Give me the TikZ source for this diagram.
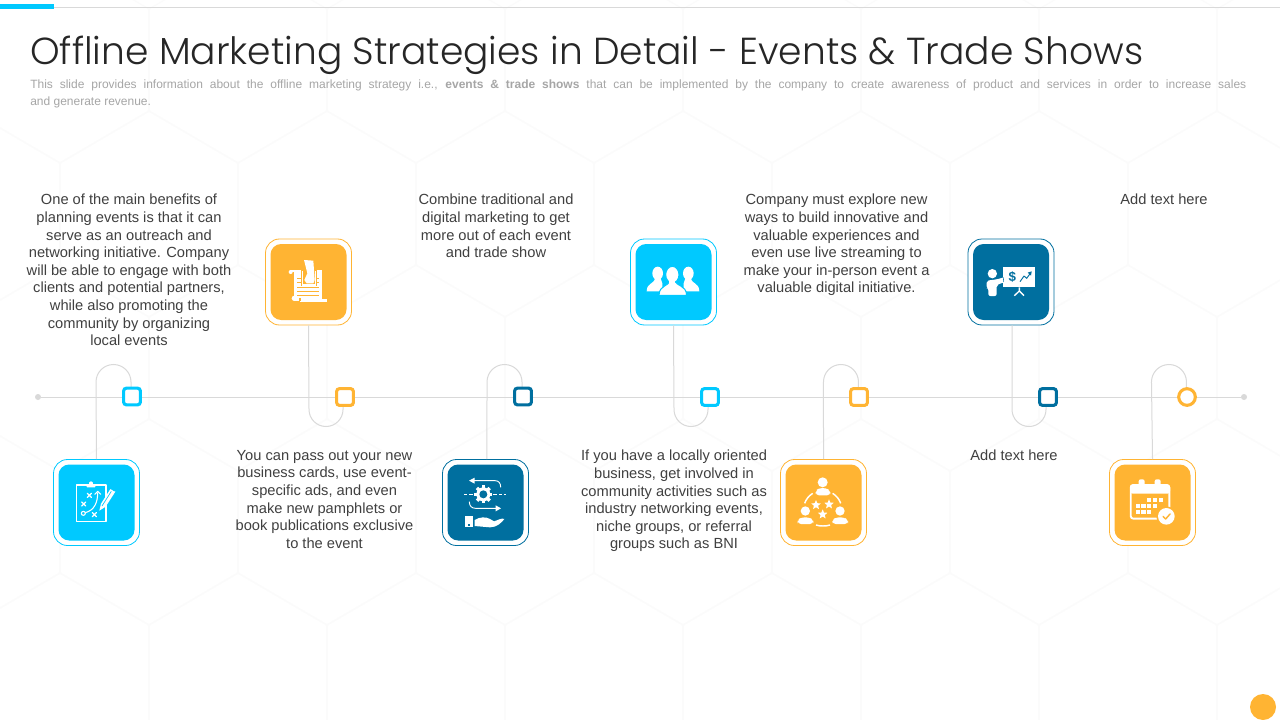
\documentclass[tikz,border=0pt]{standalone}
\usepackage{fontspec}
\setmainfont{Liberation Sans}
\newfontfamily\titlefont{Poppins Light}
\definecolor{cy}{HTML}{00C9FF}
\definecolor{or}{HTML}{FFB433}
\definecolor{bl}{HTML}{006F9F}
\definecolor{ln}{HTML}{D9D9D9}
\definecolor{tx}{HTML}{404040}
\definecolor{sub}{HTML}{A6A6A6}
\definecolor{hexc}{HTML}{FBFBFB}
\tikzset{
 outerbox/.style={draw=#1,fill=white,line width=.6pt,rounded corners=10.5pt,minimum size=64.5pt,inner sep=0pt},
 innerbox/.style={fill=#1,rounded corners=8pt,minimum size=57pt,inner sep=0pt},
 marker/.style={draw=#1,fill=white,line width=2.3pt,rounded corners=2pt,minimum size=12.5pt,inner sep=0pt},
 markerc/.style={draw=#1,fill=white,line width=2.3pt,circle,minimum size=12.5pt,inner sep=0pt},
 conn/.style={draw=ln,line width=.75pt},
 enddot/.style={circle,fill=ln,minimum size=4.5pt,inner sep=0pt},
 body/.style={text=tx,align=center,font=\fontsize{11}{13.2}\selectfont,inner sep=0pt,anchor=north},
 zoomed/.style={x=.25pt,y=-.25pt},
 ic/.style={draw=white,line width=1pt,line cap=round,line join=round},
}
\newcommand{\starat}[3]{\fill[white] ($(#1,#2)+(-90:#3)$)
 -- ($(#1,#2)+(-54:.45*#3)$) -- ($(#1,#2)+(-18:#3)$) -- ($(#1,#2)+(18:.45*#3)$) -- ($(#1,#2)+(54:#3)$)
 -- ($(#1,#2)+(90:.45*#3)$) -- ($(#1,#2)+(126:#3)$) -- ($(#1,#2)+(162:.45*#3)$) -- ($(#1,#2)+(198:#3)$)
 -- ($(#1,#2)+(234:.45*#3)$) -- cycle;}
\usetikzlibrary{calc}
\begin{document}
\begin{tikzpicture}[x=.75pt,y=-.75pt]
\useasboundingbox (0,0) rectangle (1280,720);
\fill[white] (0,0) rectangle (1280,720);
% faint background hexagons
\begin{scope}
\clip (0,0) rectangle (1280,720);
\foreach \r in {0,...,5}{
 \foreach \c in {-1,...,8}{
  \pgfmathsetmacro{\cx}{60+\c*178+mod(\r,2)*89}
  \pgfmathsetmacro{\cy}{60+\r*154}
  \draw[hexc,line width=.8pt] (\cx,\cy-103) -- (\cx+89,\cy-51) -- (\cx+89,\cy+51) -- (\cx,\cy+103) -- (\cx-89,\cy+51) -- (\cx-89,\cy-51) -- cycle;
 }}
\end{scope}
% top rule
\draw[ln,line width=.75pt] (44,7.5) -- (1280,7.5);
\fill[cy] (0,4) rectangle (54,8.7);
\fill[or] (1263,707) circle (13);
% title
\node[anchor=west,inner sep=0pt,text=black!85] (title) at (30,55) {\resizebox{834.75pt}{!}{\titlefont\fontsize{30}{36}\selectfont Offline Marketing Strategies in Detail - Events \& Trade Shows}};
\node[anchor=north west,inner sep=0pt,text=sub,text width=912pt,align=justify,font=\fontsize{9}{12.1}\selectfont] (subtitle) at (30,80) {This slide provides information about the offline marketing strategy i.e., \textbf{events \& trade shows} that can be implemented by the company to create awareness of product and services in order to increase sales\linebreak and generate revenue.};
% timeline
\node[enddot] (dl) at (38,397) {};
\node[enddot] (dr) at (1244,397) {};
\draw[ln,line width=.75pt] (dl) -- (dr);
% boxes
\node[outerbox=cy] (b1) at (96.5,502.5) {}; \node[innerbox=cy] (i1) at (b1) {};
\node[outerbox=or] (b2) at (308.5,282) {}; \node[innerbox=or] (i2) at (b2) {};
\node[outerbox=bl] (b3) at (485.5,502.5) {}; \node[innerbox=bl] (i3) at (b3) {};
\node[outerbox=cy] (b4) at (673.5,282) {}; \node[innerbox=cy] (i4) at (b4) {};
\node[outerbox=or] (b5) at (823.5,502.5) {}; \node[innerbox=or] (i5) at (b5) {};
\node[outerbox=bl] (b6) at (1011,282) {}; \node[innerbox=bl] (i6) at (b6) {};
\node[outerbox=or] (b7) at (1152.5,502.5) {}; \node[innerbox=or] (i7) at (b7) {};
% markers positions
\coordinate (m1c) at (132,396.5);
\coordinate (m2c) at (345,397);
\coordinate (m3c) at (523,396.5);
\coordinate (m4c) at (710,397);
\coordinate (m5c) at (859,397);
\coordinate (m6c) at (1048,397);
\coordinate (m7c) at (1187,397);
% connectors
\draw[conn] ([xshift=-.75pt]m1c) -- ++(0,-14.5) arc[start angle=0,end angle=-180,radius=17.5] -- (b1.north);
\draw[conn] ([xshift=-1.5pt]m2c) -- ++(0,12.5) arc[start angle=0,end angle=180,radius=17] -- (b2.south);
\draw[conn] ([xshift=-.75pt]m3c) -- ++(0,-14.5) arc[start angle=0,end angle=-180,radius=17.5] -- ([xshift=1.1pt]b3.north);
\draw[conn] ([xshift=-1.5pt]m4c) -- ++(0,12.5) arc[start angle=0,end angle=180,radius=17] -- (b4.south);
\draw[conn] ([xshift=-.4pt]m5c) -- ++(0,-15) arc[start angle=0,end angle=-180,radius=17.5] -- (b5.north);
\draw[conn] ([xshift=-1.5pt]m6c) -- ++(0,12.5) arc[start angle=0,end angle=180,radius=17] -- ([xshift=.75pt]b6.south);
\draw[conn] ([xshift=-.4pt]m7c) -- ++(0,-15) arc[start angle=0,end angle=-180,radius=17.5] -- (b7.north);
% markers
\node[marker=cy] (m1) at (m1c) {};
\node[marker=or] (m2) at (m2c) {};
\node[marker=bl] (m3) at (m3c) {};
\node[marker=cy] (m4) at (m4c) {};
\node[marker=or] (m5) at (m5c) {};
\node[marker=bl] (m6) at (m6c) {};
\node[markerc=or] (m7) at (m7c) {};
% texts
\node[body] (t1) at (129,194) {One of the main benefits of\\planning events is that it can\\serve as an outreach and\\networking initiative. Company\\will be able to engage with both\\clients and potential partners,\\while also promoting the\\community by organizing\\local events};
\node[body] (t2) at (324.5,450) {You can pass out your new\\business cards, use event-\\specific ads, and even\\make new pamphlets or\\book publications exclusive\\to the event};
\node[body] (t3) at (496,194) {Combine traditional and\\digital marketing to get\\more out of each event\\and trade show};
\node[body] (t4) at (674,450) {If you have a locally oriented\\business, get involved in\\community activities such as\\industry networking events,\\niche groups, or referral\\groups such as BNI};
\node[body] (t5) at (836.5,194) {Company must explore new\\ways to build innovative and\\valuable experiences and\\even use live streaming to\\make your in-person event a\\valuable digital initiative.};
\node[body] (t6) at (1014,450) {Add text here};
\node[body] (t7) at (1164,194) {Add text here};
% icon 1 : game plan clipboard
\begin{scope}[shift={(0,350)},zoomed]
\draw[ic,line cap=butt] (229,405) rectangle (318,515);
\fill[white,rounded corners=.5pt] (260,402) rectangle (286,412);
\fill[white] (273,400) circle (6);
\foreach \a/\b in {268/436,251/462,283/494}{
 \draw[ic,line width=.9pt] (\a-6,\b-6) -- (\a+6,\b+6) (\a-6,\b+6) -- (\a+6,\b-6);}
\draw[white,line width=.8pt] (250,490) circle (6);
\draw[white,line width=.8pt] (256,488) .. controls (285,480) and (293,455) .. (293,428);
\draw[ic,line width=.8pt] (284,433) -- (293,424) -- (302,433);
\fill[white] (298,482) -- (303,461) -- (332,416) -- (346,425) -- (317,470) -- cycle;
\draw[cy,line width=.5pt] (306,468) -- (334,424);
\draw[cy,line width=.6pt] (329,414) -- (344,423);
\end{scope}
% icon 2 : scroll and hand
\begin{scope}[shift={(250,230)},zoomed]
\fill[white] (122,126) circle (6);
\fill[white] (122,120) rectangle (160,126);
\fill[white] (133,120) rectangle (217,212);
\fill[white] (150,207) rectangle (232,217);
\fill[white] (133,205) circle (8);
\draw[or,line width=.5pt] (141,146) -- (152,146) (198,146) -- (208,146) (141,157) -- (152,157) (198,157) -- (208,157) (141,172) -- (208,172) (141,184) -- (208,184) (141,196) -- (208,196);
\draw[or,line width=.9pt] (150,205) -- (150,212);
\fill[or] (154,118) rectangle (200,168);
\fill[white] (162,90) -- (190,92) -- (194,150) -- (190,160) -- (170,160) -- (163,150) -- (172,130) -- cycle;
\draw[white,line width=1pt] (158,122) -- (158,165) -- (196,165) -- (196,122);
\end{scope}
% icon 3 : gear and hand
\begin{scope}[shift={(430,450)},zoomed]
\fill[white] (160,133) circle (21);
\foreach \a in {0,45,...,315}{\fill[white,shift={(160,133)},rotate=\a] (-5,-27) rectangle (5,-17);}
\fill[bl] (160,133) circle (12);
\draw[white,line width=.6pt] (103,133) -- (112,133) (118,133) -- (130,133) (190,133) -- (202,133) (208,133) -- (217,133) (222,133) -- (228,133);
\draw[white,line width=.7pt] (125,92) -- (195,92) .. controls (207,92) and (212,100) .. (212,112);
\fill[white] (117,92) -- (134,83) -- (134,101) -- cycle;
\draw[white,line width=.7pt] (118,155) .. controls (118,168) and (125,175) .. (137,175) -- (205,175);
\fill[white] (213,175) -- (197,166) -- (197,184) -- cycle;
\fill[white] (105,199) rectangle (128,232);
\fill[bl] (115,222) rectangle (120,227);
\fill[white] (134,210) .. controls (150,200) and (168,200) .. (180,207) -- (192,214) .. controls (205,210) and (215,203) .. (223,207) .. controls (215,218) and (200,232) .. (180,232) -- (134,228) -- cycle;
\end{scope}
% icon 4 : three people
\begin{scope}[shift={(620,230)},zoomed]
\foreach \x/\d in {113/-1,205/1}{
 \fill[white] (\x,130) ellipse (16 and 20);
 \fill[white] (\x-8*\d,142) -- (\x+8*\d,142) .. controls (\x+9*\d,165) and (\x+32*\d,155) .. (\x+33*\d,184) -- (\x-14*\d,184) -- (\x-14*\d,160) -- cycle;
}
\fill[white,draw=cy,line width=.8pt] (148,150) .. controls (148,172) and (118,162) .. (117,196) -- (200,196) .. controls (198,162) and (168,172) .. (166,150) -- cycle;
\fill[white,draw=cy,line width=.8pt] (157,134) ellipse (20 and 25);
\fill[white] (148,150) rectangle (166,172);
\end{scope}
% icon 5 : team with stars
\begin{scope}[shift={(770,450)},zoomed]
\fill[white] (158,97) circle (15);
\fill[white,rounded corners=2.5pt] (137,136) -- (137,122) -- (148,114) -- (168,114) -- (181,122) -- (181,136) -- cycle;
\foreach \x in {106,210}{
 \fill[white] (\x,183) circle (14);
 \fill[white,rounded corners=2.5pt] (\x-23,222) -- (\x-23,210) -- (\x-12,202) -- (\x+12,202) -- (\x+24,210) -- (\x+24,222) -- cycle;}
\draw[white,line width=1.1pt] (104,160) .. controls (108,148) and (116,138) .. (128,130);
\draw[white,line width=1.1pt] (188,130) .. controls (200,138) and (208,148) .. (212,160);
\draw[white,line width=1.1pt] (138,225) .. controls (150,229) and (168,229) .. (180,225);
\starat{138}{165}{15}
\starat{177}{163}{15}
\starat{158}{193}{15}
\end{scope}
% icon 6 : presenter
\begin{scope}[shift={(955,230)},zoomed]
\fill[white] (145,110) rectangle (240,172);
\node[text=bl,inner sep=0pt,font=\bfseries\fontsize{10}{10}\selectfont] (dollar) at (172,142) {\$};
\draw[bl,line width=.7pt,line join=round] (195,155) -- (207,138) -- (215,145) -- (226,130);
\fill[bl] (230,124) -- (218,128) -- (228,137) -- cycle;
\draw[white,line width=1pt] (193,172) -- (193,183) -- (178,197) (193,183) -- (207,197);
\fill[white] (112,131) circle (14);
\fill[white,rounded corners=1.5pt] (95,152) -- (126,148) -- (150,141) -- (152,155) -- (125,165) -- (125,198) -- (100,198) -- (100,175) -- (95,175) -- cycle;
\draw[bl,line width=.4pt] (145,142) -- (146,156);
\end{scope}
% icon 7 : calendar
\begin{scope}[shift={(1100,350)},zoomed]
\draw[white,line width=1.4pt,rounded corners=2pt] (92,405) rectangle (208,506);
\fill[white,rounded corners=2pt] (90,403) rectangle (210,431);
\fill[white,rounded corners=1.5pt] (116,388) rectangle (134,412);
\fill[white,rounded corners=1.5pt] (164,388) rectangle (182,412);
\foreach \p/\q in {147/450,165/450,183/450,113/467,130/467,147/467,165/467,113/485,130/485,147/485}{
 \fill[white] (\p-6.5,\q-6.5) rectangle (\p+6.5,\q+6.5);}
\fill[or] (199,499) circle (30);
\fill[white] (199,499) circle (25);
\draw[or,line width=1.1pt,line cap=round,line join=round] (189,499) -- (197,507) -- (210,492);
\end{scope}
\end{tikzpicture}
\end{document}
